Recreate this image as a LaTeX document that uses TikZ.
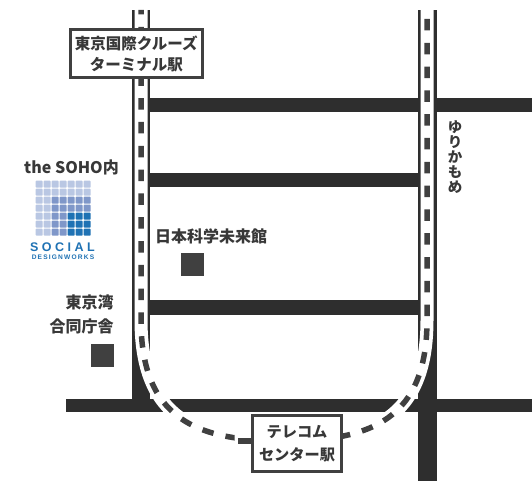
\documentclass[tikz,border=0pt]{standalone}
\usepackage{fontspec}
\setmainfont{Noto Sans CJK JP}
\newfontfamily\logofont[LetterSpace=28]{Liberation Sans}
\newfontfamily\logofontb[LetterSpace=18]{Liberation Sans}
\definecolor{road}{HTML}{2E2E2E}
\definecolor{ink}{HTML}{383838}
\definecolor{rail}{HTML}{404040}
\definecolor{lightb}{HTML}{B9C7E3}
\definecolor{midb}{HTML}{7F97C9}
\definecolor{darkb}{HTML}{1F72B4}
\tikzset{
  x=1pt,y=-1pt,
  roadfill/.style={fill=road,draw=none},
  railbed/.style={draw=white,line width=13pt},
  railtie/.style={draw=rail,line width=5.5pt},
  marker/.style={fill=rail,draw=none,minimum size=23pt,inner sep=0pt},
  label/.style={font=\bfseries\fontsize{16}{24}\selectfont,text=ink,inner sep=0pt,align=center},
  station/.style={draw=rail,line width=2.5pt,fill=white,inner sep=0pt,align=center,text=ink},
  cell/.style={rounded corners=0.8pt,draw=none},
}
\begin{document}
\begin{tikzpicture}
\useasboundingbox (0,0) rectangle (532,481);
\fill[white] (0,0) rectangle (532,481);
% roads
\fill[roadfill] (150,98) rectangle (532,112);
\fill[roadfill] (150,173) rectangle (420,187);
\fill[roadfill] (150,300) rectangle (420,315);
\fill[roadfill] (66,398.5) rectangle (532,412);
\fill[roadfill] (132,10) rectangle (150,405);
\fill[roadfill] (417.5,10) rectangle (436.5,481);
% track bed
\coordinate (ltop) at (141,10);
\coordinate (rtop) at (427,10);
\coordinate (bot) at (284,441);
\coordinate (stub) at (238,441);
\draw[railbed] (ltop) -- (141,320) .. controls (141,420) and (198,441) .. (bot)
  .. controls (370,441) and (427,420) .. (427,320) -- (rtop);
% ties
\begin{scope}
\clip (0,0) rectangle (234.5,481);
\draw[railtie,dash pattern=on 11.5pt off 12.3pt,dash phase=7pt] (ltop) -- (141,320) .. controls (141,420) and (198,441) .. (bot);
\end{scope}
\draw[railtie,dash pattern=on 11.5pt off 12.3pt,dash phase=14.8pt] (rtop) -- (427,320) .. controls (427,420) and (370,441) .. (bot);
% stations
\node[station,font=\bfseries\fontsize{15.5}{21}\selectfont,minimum width=132pt,minimum height=48pt] (cruise) at (136.3,53.5) {東京国際クルーズ\\ターミナル駅};
\node[station,font=\bfseries\fontsize{15.2}{23}\selectfont,minimum width=89pt,minimum height=56pt] (telecom) at (297,443.5) {テレコム\\センター駅};
\draw[railtie] (stub) -- (telecom.west |- stub);
% markers
\node[marker] (miraikan) at (192.5,264.5) {};
\node[marker] (godo) at (102.5,355.5) {};
% labels
\node[label] (soho) at (71.5,167) {the SOHO内};
\node[label] (miraikanlabel) at (211,236) {日本科学未来館};
\node[label,align=right] (godolabel) at (81.5,314) {東京湾\\合同庁舎};
\node[label,font=\bfseries\fontsize{14.5}{15}\selectfont] (yuri) at (455,157) {ゆ\\り\\か\\も\\め};
% logo
\foreach \r in {0,...,6}{
  \foreach \c in {0,...,6}{
    \pgfmathparse{int(\r>=2 && \c>=2 ? (\r>=4 && \c>=4 ? 2 : 1) : 0)}
    \ifcase\pgfmathresult\relax\def\cc{lightb}\or\def\cc{midb}\or\def\cc{darkb}\fi
    \fill[cell,\cc] ({35.7+8*\c},{180.7+8*\r}) rectangle +(7,7);
  }
}
\node[inner sep=0pt,text=darkb,font=\logofont\bfseries\fontsize{12.5}{12}\selectfont] (social) at (62.5,247) {SOCIAL};
\node[inner sep=0pt,text=darkb,font=\logofontb\bfseries\fontsize{6.6}{6}\selectfont] (design) at (63,257.5) {DESIGNWORKS};
\end{tikzpicture}
\end{document}
